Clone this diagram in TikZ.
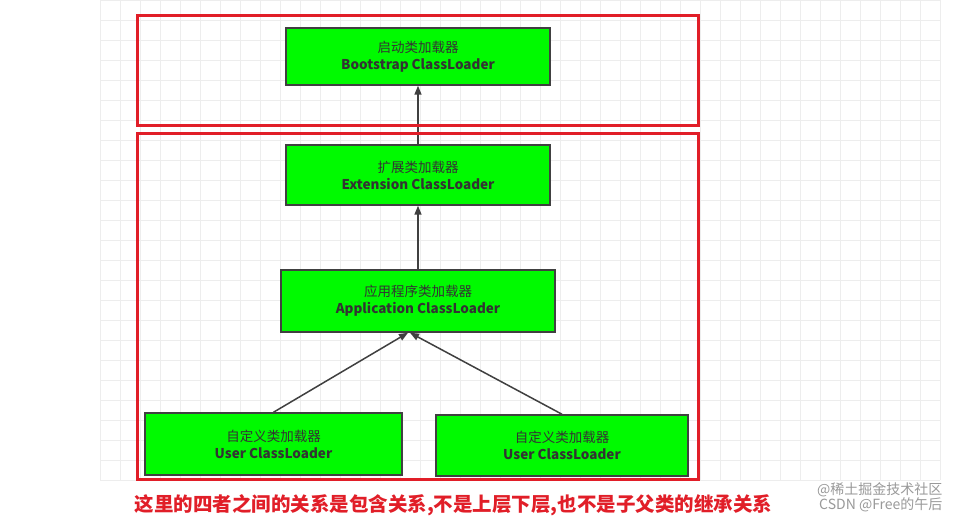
\documentclass[tikz,border=0pt]{standalone}
\usepackage{fontspec}
\setmainfont{Noto Sans CJK SC}
\usetikzlibrary{arrows.meta}
\begin{document}
\begin{tikzpicture}[x=1pt,y=-1pt,
  box/.style={draw=black!75,line width=1.5pt,fill={rgb,255:red,0;green,250;blue,0},minimum height=#1,align=center,font=\fontsize{13.5}{17}\selectfont,text=black!80},
  redbox/.style={draw={rgb,255:red,225;green,30;blue,40},line width=3pt},
  arr/.style={draw=black!75,line width=1.5pt,-{Triangle[length=9pt,width=7pt]}}]
\useasboundingbox (0,0) rectangle (959,518);
\fill[white] (0,0) rectangle (959,518);
\foreach \gx in {100,120,...,940} \draw[black!7,line width=0.6pt] (\gx,0) -- (\gx,480);
\foreach \gy in {0,20,...,480} \draw[black!7,line width=0.6pt] (100,\gy) -- (940,\gy);
\node[box=57pt,minimum width=264pt] (b) at (418,56.5) {启动类加载器\\\textbf{Bootstrap ClassLoader}};
\node[box=60pt,minimum width=264pt] (e) at (418,175) {扩展类加载器\\\textbf{Extension ClassLoader}};
\node[box=62pt,minimum width=274pt] (a) at (418,301) {应用程序类加载器\\\textbf{Application ClassLoader}};
\node[box=62pt,minimum width=257pt] (u1) at (273.5,444) {自定义类加载器\\\textbf{User ClassLoader}};
\node[box=61pt,minimum width=252pt] (u2) at (562,445.5) {自定义类加载器\\\textbf{User ClassLoader}};
\draw[arr] (e) -- (b);
\draw[arr] (a) -- (e);
\draw[arr] (u1.north) -- ([xshift=-10pt]a.south);
\draw[arr] (u2.north) -- ([xshift=-8pt]a.south);
\draw[redbox] (137,16) rectangle (698,126);
\draw[redbox] (137,134) rectangle (698,480);
\node[anchor=west,text={rgb,255:red,225;green,30;blue,40},font=\bfseries\fontsize{19.5}{21}\selectfont] (t) at (131,505) {这里的四者之间的关系是包含关系,不是上层下层,也不是子父类的继承关系};
\node[anchor=east,text=black!40,font=\fontsize{14}{15}\selectfont] (w1) at (946,490) {@稀土掘金技术社区};
\node[anchor=east,text=black!40,font=\fontsize{14}{15}\selectfont] (w2) at (946,505) {CSDN @Free的午后};
\end{tikzpicture}
\end{document}
